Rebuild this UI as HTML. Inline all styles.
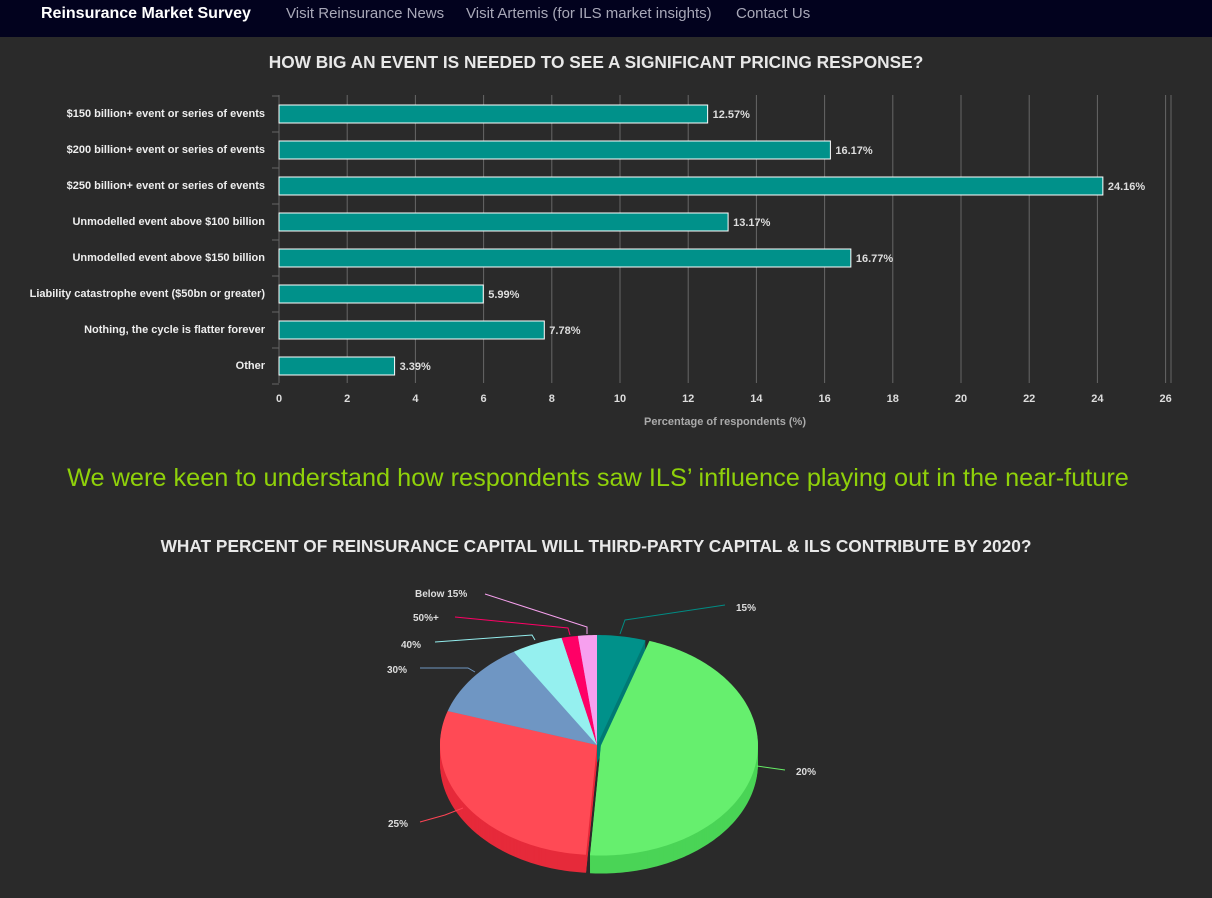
<!DOCTYPE html>
<html><head><style>
body{margin:0;width:1212px;height:898px;background:#2a2a2a;font-family:"Liberation Sans",sans-serif;overflow:hidden;position:relative}
.nav{position:absolute;left:0;top:0;width:1212px;height:37px;background:#02021e}
.nav span{position:absolute;top:5px;font-size:15px;color:#a8a8b8}
</style></head><body>
<div class="nav">
<span style="left:41px;color:#fff;font-weight:bold;font-size:16px;top:5px">Reinsurance Market Survey</span>
<span style="left:286px">Visit Reinsurance News</span>
<span style="left:466px">Visit Artemis (for ILS market insights)</span>
<span style="left:736px">Contact Us</span>
</div>
<svg width="1212" height="898" style="position:absolute;left:0;top:0" font-family="Liberation Sans, sans-serif">
<text x="596" y="68" fill="#e8e8e8" font-size="17.3" font-weight="bold" text-anchor="middle">HOW BIG AN EVENT IS NEEDED TO SEE A SIGNIFICANT PRICING RESPONSE?</text>
<g id="grid" stroke="#666" stroke-width="1"></g>
<g id="bars"></g>
<text x="725" y="425" fill="#aaa" font-size="11" font-weight="bold" text-anchor="middle">Percentage of respondents (%)</text>
<text x="598" y="486" fill="#8fd10a" font-size="25.3" text-anchor="middle">We were keen to understand how respondents saw ILS’ influence playing out in the near-future</text>
<text x="596" y="552" fill="#e8e8e8" font-size="17.3" font-weight="bold" text-anchor="middle">WHAT PERCENT OF REINSURANCE CAPITAL WILL THIRD-PARTY CAPITAL &amp; ILS CONTRIBUTE BY 2020?</text>
<g id="pie"></g>
<g font-size="10" font-weight="bold" fill="#ddd" fill-opacity="1">
<polyline points="620,634 625,620 725,605" fill="none" stroke="#008c84"/>
<text x="736" y="611">15%</text>
<polyline points="757,766 785,770" fill="none" stroke="#66ee66"/>
<text x="796" y="775">20%</text>
<polyline points="463,808 445,815 420,822" fill="none" stroke="#ff4455"/>
<text x="388" y="827">25%</text>
<polyline points="475,672 468,668 420,668" fill="none" stroke="#6f96c0"/>
<text x="387" y="673">30%</text>
<polyline points="535,640 532,635 435,642" fill="none" stroke="#93eded"/>
<text x="401" y="648">40%</text>
<polyline points="570,635 568,628 455,617" fill="none" stroke="#ff0066"/>
<text x="413" y="621">50%+</text>
<polyline points="587,634 587,627 485,594" fill="none" stroke="#f7a1ee"/>
<text x="415" y="597">Below 15%</text>
</g>
</svg>
<script>
var ns="http://www.w3.org/2000/svg";
function el(p,t,a,txt){var e=document.createElementNS(ns,t);for(var k in a)e.setAttribute(k,a[k]);if(txt!==undefined)e.textContent=txt;document.getElementById(p).appendChild(e);return e;}
var x0=279,u=34.1;
for(var i=0;i<=26;i+=2){var x=x0+i*u;el("grid","line",{x1:x,y1:95,x2:x,y2:383});el("bars","text",{x:x,y:402,fill:"#ddd","font-size":11,"font-weight":"bold","text-anchor":"middle"},i);}
el("grid","line",{x1:1171,y1:95,x2:1171,y2:383});
for(var j=0;j<=8;j++){el("grid","line",{x1:272,y1:96+j*36,x2:279,y2:96+j*36});}
var d=[["$150 billion+ event or series of events",12.57],["$200 billion+ event or series of events",16.17],["$250 billion+ event or series of events",24.16],["Unmodelled event above $100 billion",13.17],["Unmodelled event above $150 billion",16.77],["Liability catastrophe event ($50bn or greater)",5.99],["Nothing, the cycle is flatter forever",7.78],["Other",3.39]];
d.forEach(function(r,i){var y=105+i*36;el("bars","rect",{x:x0,y:y,width:r[1]*u,height:18,fill:"#00918a",stroke:"#fff","stroke-width":1});
el("bars","text",{x:265,y:y+12,fill:"#eee","font-size":11,"font-weight":"bold","text-anchor":"end"},r[0]);
el("bars","text",{x:x0+r[1]*u+5,y:y+13,fill:"#ddd","font-size":11,"font-weight":"bold"},r[1].toFixed(2)+"%");});
var cx=597,cy=745,rx=157,ry=110;
var s=[[0,18,"#00918a","#007a74",0],[18,184,"#66ef6e","#4ad456",4],[184,288,"#ff4a55","#e62a3a",0],[288,328,"#6f96c3","#5a7ea8",0],[328,347,"#95f0ef","#78d0d0",0],[347,353,"#ff0066","#d0004f",0],[353,360,"#f7a0ef","#d080c8",0]];
function path(a0,a1,ox,oy){var p="M"+(cx+ox)+","+(cy+oy);for(var a=a0;a<=a1+0.001;a+=1){var r=a*Math.PI/180;p+=" L"+(cx+ox+rx*Math.sin(r))+","+(cy+oy-ry*Math.cos(r));}return p+"Z";}
for(var dz=18;dz>0;dz--){s.forEach(function(q){var m=(q[0]+q[1])/2*Math.PI/180;el("pie","path",{d:path(q[0],q[1],q[4]*Math.sin(m),dz-q[4]*Math.cos(m)*0.7),fill:q[3]});});}
s.forEach(function(q){var m=(q[0]+q[1])/2*Math.PI/180;el("pie","path",{d:path(q[0],q[1],q[4]*Math.sin(m),-q[4]*Math.cos(m)*0.7),fill:q[2]});});
</script>
</body></html>
